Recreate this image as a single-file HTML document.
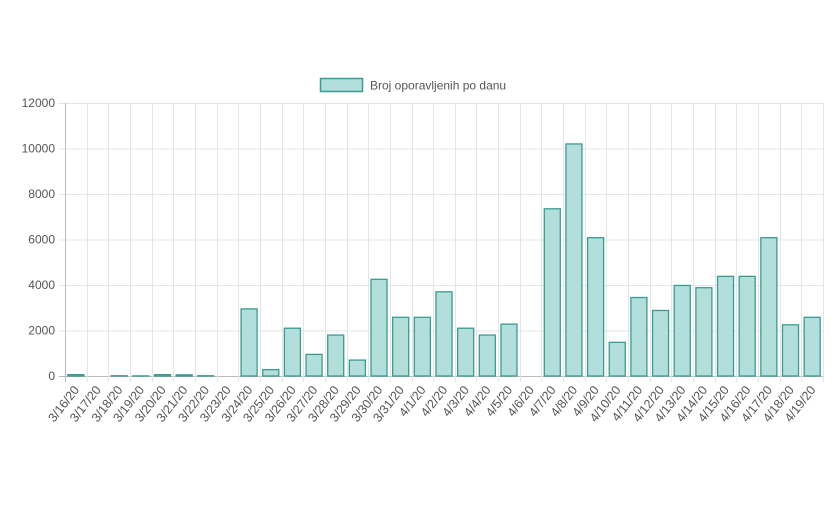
<!DOCTYPE html>
<html><head><meta charset="utf-8"><style>
body{margin:0;background:#fff;}
svg{display:block;font-family:"Liberation Sans",sans-serif;}
</style></head><body>
<svg id="c" width="836" height="510">
<g>
<rect x="320.5" y="78.5" width="42" height="13" fill="#b2dfdb" stroke="#3a9b92" stroke-width="1.5"/>
<text x="370" y="89.5" font-size="12" fill="#555">Broj oporavljenih po danu</text>
</g>
<g id="grid"></g><g id="bars"></g><g id="labels"></g>
</svg>
<script>
const categories=["3/16/20","3/17/20","3/18/20","3/19/20","3/20/20","3/21/20","3/22/20","3/23/20","3/24/20","3/25/20","3/26/20","3/27/20","3/28/20","3/29/20","3/30/20","3/31/20","4/1/20","4/2/20","4/3/20","4/4/20","4/5/20","4/6/20","4/7/20","4/8/20","4/9/20","4/10/20","4/11/20","4/12/20","4/13/20","4/14/20","4/15/20","4/16/20","4/17/20","4/18/20","4/19/20"];
const values=[60,0,10,5,60,50,10,0,2950,280,2100,950,1800,700,4250,2580,2580,3700,2100,1800,2280,0,7350,10200,6080,1480,3450,2880,3980,3880,4380,4380,6080,2250,2580];
const yTicks=[0,2000,4000,6000,8000,10000,12000];
const NS="http://www.w3.org/2000/svg";
const X0=65,X1=823,Y0=376,Y1=103,YMAX=12000;
const cw=(X1-X0)/categories.length;
const y=v=>Y0-(v/YMAX)*(Y0-Y1);
const x=i=>X0+i*cw;
function mk(t,a,p){const e=document.createElementNS(NS,t);for(const k in a)e.setAttribute(k,a[k]);p.appendChild(e);return e;}
const G=document.getElementById('grid'),B=document.getElementById('bars'),L=document.getElementById('labels');
yTicks.forEach(v=>{
 const l=mk('line',{x1:X0-6,x2:X1,y1:y(v)+.5,y2:y(v)+.5,stroke:v===0?'#bbb':'#e5e5e5'},G);
 
 
 const t=mk('text',{x:X0-10,y:y(v)+4,'text-anchor':'end','font-size':12,fill:'#555'},G);
 t.textContent=v;
 
 
});
for(let i=0;i<=categories.length;i++){
 const l=mk('line',{x1:Math.round(x(i))+.5,x2:Math.round(x(i))+.5,y1:Y1,y2:Y0+6,stroke:i===0?'#bbb':'#e5e5e5'},G);
 
 
}
categories.forEach((c,i)=>{
 const bw=cw*0.74,bx=x(i)+(cw-bw)/2,top=y(values[i]);
 const r=mk('rect',{x:bx,y:top,width:bw,height:Math.max(0,Y0-top),fill:'#b2dfdb',stroke:'#3a9b92','stroke-width':1.3},B);
 
 
 const cx=x(i)+cw/2+4,cy=Y0+14;
 const t=mk('text',{x:cx,y:cy,'text-anchor':'end','font-size':12.5,fill:'#555',transform:`rotate(-52 ${cx} ${cy})`},L);
 t.textContent=c;
 
 
});
</script>
</body></html>
